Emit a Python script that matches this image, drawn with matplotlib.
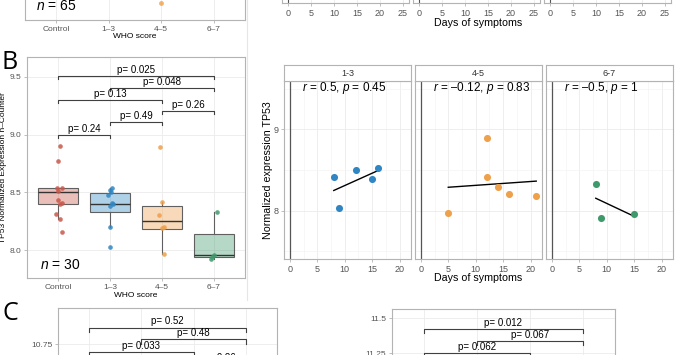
import numpy as np
import matplotlib.pyplot as plt
from matplotlib.lines import Line2D
from matplotlib.colors import to_rgba

plt.rcParams['font.family'] = ['Liberation Sans', 'DejaVu Sans']
plt.rcParams['mathtext.fontset'] = 'custom'
plt.rcParams['mathtext.rm'] = 'Liberation Sans'
plt.rcParams['mathtext.it'] = 'Liberation Sans:italic'

W, H = 678, 355

# ---- values ----
who_groups = ['Control', '1–3', '4–5', '6–7']
group_colors = ['#c9574a', '#2f86c2', '#eea04a', '#3f9a6b']

# panel B, boxplot of TP53 n-Counter expression
box_q1 = [8.395, 8.33, 8.185, 7.937]
box_med = [8.505, 8.40, 8.25, 7.957]
box_q3 = [8.535, 8.497, 8.384, 8.14]
box_lo = [8.265, 8.20, 7.965, 7.92]
box_hi = [8.54, 8.54, 8.42, 8.327]

pts_ctrl = [8.90, 8.77, 8.54, 8.54, 8.51, 8.43, 8.41, 8.40, 8.31, 8.27, 8.16]
jit_ctrl = [0.04, 0.0, -0.03, 0.07, -0.01, 0.0, 0.07, 0.04, -0.04, 0.04, 0.07]
pts_13 = [8.54, 8.52, 8.50, 8.48, 8.41, 8.40, 8.38, 8.20, 8.03]
jit_13 = [0.03, 0.0, 0.02, -0.03, 0.03, 0.06, -0.01, 0.0, 0.0]
pts_45 = [8.89, 8.42, 8.30, 8.20, 8.19, 7.97]
jit_45 = [-0.04, 0.0, -0.06, 0.03, 0.0, 0.045]
pts_67 = [8.33, 7.96, 7.94, 7.92]
jit_67 = [0.07, 0.0, -0.04, -0.06]

b_pairs = [(1, 2), (2, 3), (3, 4), (1, 3), (2, 4), (1, 4)]
b_y = [9.0, 9.107, 9.205, 9.30, 9.406, 9.508]
b_lab = ['p= 0.24', 'p= 0.49', 'p= 0.26', 'p= 0.13', 'p= 0.048', 'p= 0.025']

# panel B, expression vs days of symptoms per WHO score
facet_labels = ['1-3', '4-5', '6-7']
days_13 = [8, 12, 16, 15, 9]
expr_13 = [8.41, 8.50, 8.52, 8.39, 8.03]
days_45 = [5, 12, 12, 14, 16, 21]
expr_45 = [7.97, 8.89, 8.42, 8.295, 8.205, 8.184]
days_67 = [8, 9, 15]
expr_67 = [8.33, 7.915, 7.96]
cor_r = ['0.5', '–0.12', '–0.5']
cor_p = ['0.45', '0.83', '1']

# panel A (only the bottom edge is visible)
top_pt_45 = [7.64]

# panel C (only the top edge is visible)
c1_pairs = [(1, 4), (2, 4), (1, 3), (3, 4)]
c1_y = [10.826, 10.773, 10.716, 10.66]
c1_lab = ['p= 0.52', 'p= 0.48', 'p= 0.033', 'p= 0.26']
c2_pairs = [(1, 4), (2, 4), (1, 3)]
c2_y = [11.421, 11.338, 11.254]
c2_lab = ['p= 0.012', 'p= 0.067', 'p= 0.062']

fig = plt.figure(figsize=(W / 100, H / 100), dpi=100)


def ax_px(x0, y0, x1, y1):
    return fig.add_axes([x0 / W, 1 - y1 / H, (x1 - x0) / W, (y1 - y0) / H])


def gg_style(ax, lsize=6.5):
    for s in ax.spines.values():
        s.set_color('#b3b3b3')
        s.set_linewidth(0.8)
    ax.tick_params(colors='#b3b3b3', labelcolor='#555555', labelsize=lsize,
                   length=2.5, width=0.6, pad=1.5)
    ax.grid(True, color='#ebebeb', lw=0.6)
    ax.set_axisbelow(True)


def brackets(ax, pairs, ys, labels, drop, gap, fs=7):
    for (a, b), y, lab in zip(pairs, ys, labels):
        ax.plot([a, a, b, b], [y - drop, y, y, y - drop], color='#404040', lw=0.8)
        ax.text((a + b) / 2, y + gap, lab, ha='center', va='bottom', fontsize=fs)


# ---------- top strip: bottom of panel A ----------
axA = ax_px(25, -80, 245, 20)
gg_style(axA, 6)
axA.set_xlim(0.4, 4.6)
axA.set_ylim(7.5, 8.3)
axA.set_xticks(range(1, 5))
axA.set_xticklabels(who_groups)
axA.set_yticks([])
axA.scatter([3], top_pt_45, s=12, color=group_colors[2], alpha=0.8, lw=0)
axA.text(0.05, 0.1, r'$\it{n}$ = 65', transform=axA.transAxes, fontsize=10)
fig.text(135 / W, 1 - 36 / H, 'WHO score', ha='center', va='center', fontsize=6)

for i, x0 in enumerate([282, 413, 544]):
    ax = ax_px(x0, -90, x0 + 127, 3)
    gg_style(ax)
    ax.set_xlim(-1.3, 26.3)
    ax.set_ylim(7.4, 9.6)
    ax.set_xticks(range(0, 26, 5))
    ax.set_yticks([])
    ax.axvline(0, color='#555555', lw=0.8)
fig.text(478 / W, 1 - 23 / H, 'Days of symptoms', ha='center', va='center', fontsize=7.7)

# ---------- panel B left: boxplot ----------
fig.text(2 / W, 1 - 69 / H, 'B', fontsize=18, family='Open Sans')
axB = ax_px(27, 57, 245, 278)
gg_style(axB, 6)
stats = [dict(q1=q1, med=m, q3=q3, whislo=lo, whishi=hi)
         for q1, m, q3, lo, hi in zip(box_q1, box_med, box_q3, box_lo, box_hi)]
bp = axB.bxp(stats, positions=[1, 2, 3, 4], widths=0.76, patch_artist=True,
             showfliers=False, showcaps=False,
             boxprops=dict(edgecolor='#606060', lw=0.8),
             medianprops=dict(color='#333333', lw=1.0),
             whiskerprops=dict(color='#606060', lw=0.8))
for patch, c in zip(bp['boxes'], group_colors):
    patch.set_facecolor(to_rgba(c, 0.38))
for i, (pts, jit) in enumerate([(pts_ctrl, jit_ctrl), (pts_13, jit_13),
                                (pts_45, jit_45), (pts_67, jit_67)]):
    axB.scatter(np.array(jit) + i + 1, pts, s=11, color=group_colors[i],
                alpha=0.85, lw=0, zorder=3)
brackets(axB, b_pairs, b_y, b_lab, 0.026, 0.006)
axB.set_xlim(0.4, 4.6)
axB.set_ylim(7.758, 9.671)
axB.set_yticks([8.0, 8.5, 9.0, 9.5])
axB.set_xticks(range(1, 5))
axB.set_xticklabels(who_groups)
axB.set_xlabel('WHO score', fontsize=6, labelpad=1)
axB.set_ylabel('TP53 Normalized Expression n–Counter', fontsize=6, labelpad=2)
axB.text(0.06, 0.04, r'$\it{n}$ = 30', transform=axB.transAxes, fontsize=10)

# ---------- panel B right: facets ----------
facet_data = [(days_13, expr_13), (days_45, expr_45), (days_67, expr_67)]
for i, x0 in enumerate([284, 415, 546]):
    ax = ax_px(x0, 81, x0 + 127, 259)
    gg_style(ax)
    ax.set_xlim(-1.05, 22.05)
    ax.set_ylim(7.407, 9.593)
    ax.set_xticks(range(0, 21, 5))
    ax.set_xticks(np.arange(2.5, 22, 5), minor=True)
    ax.set_yticks([8, 9])
    ax.set_yticks([7.5, 8.5, 9.5], minor=True)
    ax.tick_params(which='minor', length=0)
    ax.grid(True, which='minor', color='#f4f4f4', lw=0.5)
    if i > 0:
        ax.set_yticklabels([])
        ax.tick_params(axis='y', length=0)
    ax.axvline(0, color='#555555', lw=0.9)
    d, e = facet_data[i]
    ax.scatter(d, e, s=26, color=group_colors[i + 1], lw=0, zorder=3)
    k, b0 = np.polyfit(d, e, 1)
    xs = np.array([min(d), max(d)])
    ax.plot(xs, k * xs + b0, color='black', lw=1.0, zorder=2)
    ax.text(2.2, 9.51, r'$\it{r}$ = ' + cor_r[i] + r', $\it{p}$ = ' + cor_p[i],
            fontsize=8.5, va='center', ha='left')
    strip = ax_px(x0, 65, x0 + 127, 81)
    strip.set_xticks([])
    strip.set_yticks([])
    for s in strip.spines.values():
        s.set_color('#b3b3b3')
        s.set_linewidth(0.8)
    strip.text(0.5, 0.5, facet_labels[i], ha='center', va='center', fontsize=6.5,
               color='#333333')
fig.text(268 / W, 1 - 170 / H, 'Normalized expression TP53', rotation=90,
         ha='center', va='center', fontsize=7.7)
fig.text(478 / W, 1 - 278 / H, 'Days of symptoms', ha='center', va='center', fontsize=7.7)

# ---------- panel C (top edge) ----------
fig.text(2 / W, 1 - 320 / H, 'C', fontsize=18, family='Open Sans')
axC1 = ax_px(58, 308, 277, 500)
gg_style(axC1, 6)
axC1.set_xlim(0.4, 4.6)
axC1.set_ylim(10.04, 10.915)
axC1.set_xticks(range(1, 5))
axC1.set_xticklabels([])
axC1.set_yticks([10.75])
axC1.set_yticklabels(['10.75'])
brackets(axC1, c1_pairs, c1_y, c1_lab, 0.02, 0.005)

axC2 = ax_px(392, 309, 615, 500)
gg_style(axC2, 6)
axC2.set_xlim(0.4, 4.6)
axC2.set_ylim(10.2, 11.566)
axC2.set_xticks(range(1, 5))
axC2.set_xticklabels([])
axC2.set_yticks([11.25, 11.5])
axC2.set_yticklabels(['11.25', '11.5'])
brackets(axC2, c2_pairs, c2_y, c2_lab, 0.03, 0.007)

fig.add_artist(Line2D([247 / W, 247 / W], [1, 1 - 300 / H], color='#e6e6e6', lw=0.8))

fig.savefig('out.png', dpi=100)
